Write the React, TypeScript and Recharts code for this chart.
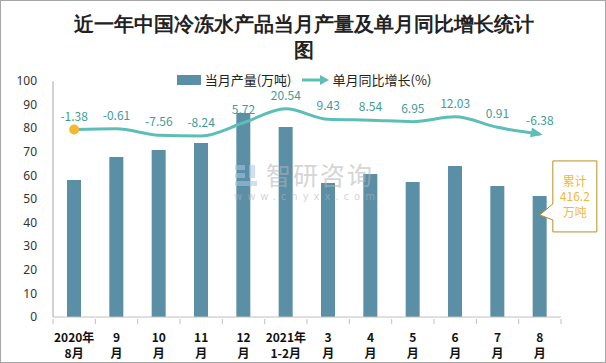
import React from 'react';
import {
  ComposedChart,
  Bar,
  Line,
  XAxis,
  YAxis,
  LabelList,
  ReferenceDot,
} from 'recharts';

const months = [
  '2020年8月', '9月', '10月', '11月', '12月', '2021年1-2月',
  '3月', '4月', '5月', '6月', '7月', '8月',
];
const output = [58.0, 67.8, 70.8, 73.7, 86.4, 80.5, 56.8, 60.6, 57.2, 64.0, 55.5, 51.3];
const growth = [-1.38, -0.61, -7.56, -8.24, 5.72, 20.54, 9.43, 8.54, 6.95, 12.03, 0.91, -6.38];
const leftTicks = [0, 10, 20, 30, 40, 50, 60, 70, 80, 90, 100];
const totalNote = ['累计', '416.2', '万吨'];

const data = months.map((m, i) => ({ month: m, output: output[i], growth: growth[i] }));

const BAR = '#5B8FA6';
const LINE = '#5DBEB7';
const SANS = '"Noto Sans CJK SC", "Noto Sans", sans-serif';

const splitMonth = (s: string): [string, string] => {
  const k = s.indexOf('年');
  if (k >= 0) return [s.slice(0, k + 1), s.slice(k + 1)];
  return [s.replace('月', ''), '月'];
};

const MonthTick = (props: any) => {
  const { x, y, payload, index } = props;
  const [a, b] = splitMonth(payload.value);
  const half = 21.15;
  const top = y - 6;
  return (
    <g>
      <line x1={x - half} x2={x - half} y1={top} y2={top + 5} stroke="#BFBFBF" />
      {index === months.length - 1 && (
        <line x1={x + half} x2={x + half} y1={top} y2={top + 5} stroke="#BFBFBF" />
      )}
      <text x={x} y={top + 23} textAnchor="middle" fontSize={12} fontWeight="bold" fill="#111" fontFamily={SANS}>
        {a}
      </text>
      <text x={x} y={top + 39} textAnchor="middle" fontSize={12} fontWeight="bold" fill="#111" fontFamily={SANS}>
        {b}
      </text>
    </g>
  );
};

const LineDot = (props: any) => {
  const { cx, cy, index } = props;
  if (index === 0) return <circle key="d0" cx={cx} cy={cy} r={5} fill="#F5B82E" stroke="none" />;
  if (index === growth.length - 1)
    return (
      <polygon
        key="dl"
        points={`${cx + 3},${cy} ${cx - 9},${cy - 5} ${cx - 9},${cy + 5}`}
        fill={LINE}
        transform={`rotate(12 ${cx} ${cy})`}
      />
    );
  return <g key={`d${index}`} />;
};

const Callout = (props: any) => {
  const { cx, cy } = props;
  const tx = cx;
  const ty = cy + 19;
  const l = tx + 13;
  const r = tx + 57;
  const t = ty - 54;
  const b = ty + 17;
  return (
    <g>
      <path
        d={`M${l},${t} H${r} V${b} H${l} V${ty + 5} L${tx},${ty} L${l},${ty - 11} Z`}
        fill="#fff"
        stroke="#BC8E1E"
        strokeWidth={1}
      />
      {totalNote.map((s, i) => (
        <text key={s} x={(l + r) / 2} y={ty - 29 + i * 15.5} textAnchor="middle" fontSize={12} fill="#F2B83A" fontFamily={SANS}>
          {s}
        </text>
      ))}
    </g>
  );
};

const LegendBox = () => (
  <div
    style={{
      position: 'absolute',
      left: 0,
      top: 72,
      width: 606,
      display: 'flex',
      justifyContent: 'center',
      alignItems: 'center',
      fontFamily: SANS,
      fontSize: 13,
      lineHeight: '13px',
      color: '#222',
    }}
  >
    <svg width={24} height={12} style={{ marginRight: 4 }}>
      <rect x={0} y={1} width={24} height={10} fill={BAR} />
    </svg>
    <span>当月产量(万吨)</span>
    <svg width={28} height={12} style={{ marginLeft: 10, marginRight: 3 }}>
      <line x1={0} y1={6} x2={20} y2={6} stroke={LINE} strokeWidth={3} />
      <polygon points="27,6 18,1 18,11" fill={LINE} />
    </svg>
    <span>单月同比增长(%)</span>
  </div>
);

const Watermark = () => (
  <div style={{ position: 'absolute', left: 232, top: 160, pointerEvents: 'none', opacity: 0.55 }}>
    <svg width={28} height={26} style={{ position: 'absolute', left: 0, top: 2 }}>
      <rect x={2} y={2} width={10} height={5} fill="#A9C4E4" />
      <rect x={2} y={10} width={10} height={5} fill="#A9C4E4" />
      <rect x={2} y={18} width={22} height={5} fill="#A9C4E4" />
      <rect x={16} y={2} width={6} height={13} fill="#A9C4E4" />
    </svg>
    <div
      style={{
        position: 'absolute',
        left: 33,
        top: 1,
        fontFamily: SANS,
        fontSize: 25,
        lineHeight: '25px',
        color: '#B4B4B4',
        whiteSpace: 'nowrap',
        letterSpacing: 2,
      }}
    >
      智研咨询
    </div>
    <div
      style={{
        position: 'absolute',
        left: 1,
        top: 31,
        fontFamily: '"DejaVu Sans", sans-serif',
        fontSize: 10,
        lineHeight: '10px',
        color: '#B4B4B4',
        whiteSpace: 'nowrap',
        letterSpacing: 5,
      }}
    >
      www.chyxx.com
    </div>
  </div>
);

export default function App() {
  return (
    <div
      style={{
        position: 'absolute',
        left: 0,
        top: 0,
        width: 606,
        height: 363,
        boxSizing: 'border-box',
        border: '1px solid #A6A6A6',
        background: '#fff',
        overflow: 'hidden',
      }}
    >
      <div
        style={{
          position: 'absolute',
          left: 0,
          top: 10,
          width: 606,
          textAlign: 'center',
          fontFamily: 'serif',
          fontWeight: 'bold',
          fontSize: 20,
          lineHeight: '26px',
          color: '#222',
        }}
      >
        <div>近一年中国冷冻水产品当月产量及单月同比增长统计</div>
        <div>图</div>
      </div>
      <LegendBox />
      <div style={{ position: 'absolute', left: 0, top: 0 }}>
        <ComposedChart width={606} height={363} data={data} margin={{ top: 80, right: 46, bottom: 0, left: 0 }}>
          <XAxis
            dataKey="month"
            axisLine={{ stroke: '#BFBFBF' }}
            tickLine={false}
            tick={<MonthTick />}
            interval={0}
            height={47}
          />
          <YAxis
            yAxisId="left"
            domain={[0, 100]}
            ticks={leftTicks}
            interval={0}
            width={52}
            axisLine={{ stroke: '#A6A6A6' }}
            tickLine={false}
            tick={{ fontSize: 12, fill: '#333', fontFamily: '"Noto Sans", sans-serif' }}
            tickMargin={10}
          />
          <YAxis yAxisId="right" orientation="right" domain={[-200, 50]} hide />
          <Bar yAxisId="left" dataKey="output" fill={BAR} barSize={14} isAnimationActive={false} />
          <Line
            yAxisId="right"
            dataKey="growth"
            type="monotone"
            stroke={LINE}
            strokeWidth={3}
            dot={<LineDot />}
            activeDot={false}
            isAnimationActive={false}
          >
            <LabelList dataKey="growth" position="top" offset={9} fontSize={12} fill="#3E9C98" fontFamily={SANS} />
          </Line>
          <ReferenceDot
            yAxisId="left"
            x={months[months.length - 1]}
            y={output[output.length - 1]}
            shape={<Callout />}
            ifOverflow="visible"
          />
        </ComposedChart>
      </div>
      <Watermark />
    </div>
  );
}
